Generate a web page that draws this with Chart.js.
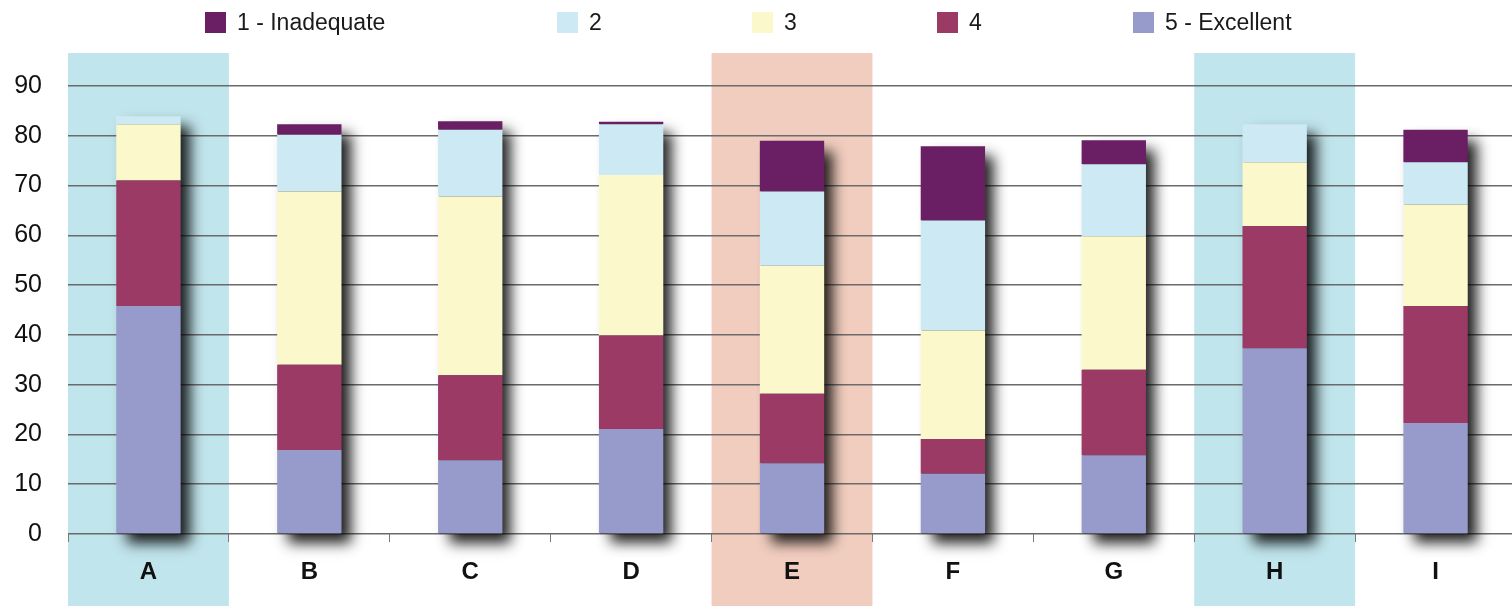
<!DOCTYPE html>
<html>
<head>
<meta charset="utf-8">
<script src="https://cdn.jsdelivr.net/npm/chart.js@4/dist/chart.umd.min.js"></script>
<style>
  html, body { margin: 0; padding: 0; background: #ffffff; }
  #wrap { position: relative; width: 1512px; height: 606px; overflow: hidden; }
  #c { position: absolute; left: 0; top: 0; }
  #legend { position: absolute; left: 0; top: 0; width: 1512px; height: 44px;
            font-family: "Liberation Sans", Arial, sans-serif; font-size: 23px; color: #1a1a1a; }
  .item { position: absolute; top: 10px; height: 24px; display: flex; align-items: center; white-space: nowrap; }
  .sw { width: 21px; height: 21px; margin-right: 11px; flex: none; }
</style>
</head>
<body>
<div id="wrap">
  <!-- plot runs slightly past the right edge, so the canvas is a little wider than the view -->
  <canvas id="c" width="1516" height="606"></canvas>
  <div id="legend"></div>
</div>
<script>
// Ratings per category, stacked from "5 - Excellent" at the bottom up to "1 - Inadequate"
const categories = ['A', 'B', 'C', 'D', 'E', 'F', 'G', 'H', 'I'];
const legendLabels = ['1 - Inadequate', '2', '3', '4', '5 - Excellent'];
const inadequate = [0, 2.1, 1.7, 0.5, 10.2, 14.9, 4.8, 0, 6.5];
const rating2    = [1.6, 11.4, 13.4, 10.2, 14.9, 22.1, 14.5, 7.6, 8.5];
const rating3    = [11.3, 34.8, 35.9, 32.2, 25.7, 21.8, 26.8, 12.8, 20.4];
const rating4    = [25.2, 17.1, 17.1, 18.8, 14.0, 7.0, 17.2, 24.6, 23.5];
const excellent  = [45.8, 16.9, 14.8, 21.1, 14.2, 12.1, 15.8, 37.3, 22.3];
const yTicks = [0, 10, 20, 30, 40, 50, 60, 70, 80, 90];
const highlightedCategories = ['A', 'E', 'H'];

// Styling
const colors = {
  '1 - Inadequate': '#6a1e63',
  '2': '#cdeaf4',
  '3': '#fbf8cc',
  '4': '#9c3a66',
  '5 - Excellent': '#979bcb'
};
const bandColors = { A: '#c1e5ec', E: '#f1cdbf', H: '#c1e5ec' };
const legendLeft = [205, 557, 752, 937, 1133];
const bandTop = 53;

// Legend
const legendEl = document.getElementById('legend');
legendLabels.forEach((label, i) => {
  const it = document.createElement('div');
  it.className = 'item';
  it.style.left = legendLeft[i] + 'px';
  const sw = document.createElement('span');
  sw.className = 'sw';
  sw.style.background = colors[label];
  const tx = document.createElement('span');
  tx.textContent = label;
  it.appendChild(sw);
  it.appendChild(tx);
  legendEl.appendChild(it);
});

// Shaded columns behind highlighted categories
const bandsPlugin = {
  id: 'bands',
  beforeDraw(chart) {
    const { ctx, scales: { x } } = chart;
    const step = x.getPixelForValue(1) - x.getPixelForValue(0);
    ctx.save();
    highlightedCategories.forEach(cat => {
      const i = categories.indexOf(cat);
      const cx = x.getPixelForValue(i);
      ctx.fillStyle = bandColors[cat];
      ctx.fillRect(cx - step / 2, bandTop, step, chart.height - bandTop);
    });
    ctx.restore();
  }
};

// Soft drop shadow behind each stacked column
const shadowPlugin = {
  id: 'stackShadow',
  beforeDatasetsDraw(chart) {
    const metas = chart.getSortedVisibleDatasetMetas();
    if (!metas.length) return;
    const base = chart.scales.y.getPixelForValue(0);
    const { ctx } = chart;
    ctx.save();
    ctx.shadowColor = 'rgba(0,0,0,0.88)';
    ctx.shadowBlur = 13;
    ctx.shadowOffsetX = 10;
    ctx.shadowOffsetY = 9;
    ctx.fillStyle = '#3a3a3a';
    categories.forEach((c, i) => {
      let top = base;
      let x = 0, w = 0;
      metas.forEach(m => {
        const el = m.data[i];
        if (!el) return;
        top = Math.min(top, el.y);
        x = el.x; w = el.width;
      });
      ctx.fillRect(x - w / 2 + 1, top + 1, w - 2, base - top - 1);
    });
    ctx.restore();
  }
};

const stackOrder = [
  ['5 - Excellent', excellent],
  ['4', rating4],
  ['3', rating3],
  ['2', rating2],
  ['1 - Inadequate', inadequate]
];

new Chart(document.getElementById('c'), {
  type: 'bar',
  data: {
    labels: categories,
    datasets: stackOrder.map(([label, values]) => ({
      label,
      data: values,
      backgroundColor: colors[label],
      borderWidth: 0,
      categoryPercentage: 1,
      barPercentage: 0.4
    }))
  },
  options: {
    responsive: false,
    devicePixelRatio: 1,
    animation: false,
    layout: { padding: { top: 86, right: 0, bottom: 0, left: 0 } },
    plugins: {
      legend: { display: false },
      tooltip: { enabled: false }
    },
    scales: {
      x: {
        stacked: true,
        offset: true,
        afterFit(scale) { scale.height = 72; },
        grid: {
          display: true,
          drawOnChartArea: false,
          drawTicks: true,
          offset: true,
          tickLength: 8,
          color: '#7a7a7a',
          lineWidth: 1
        },
        border: { display: false },
        ticks: {
          color: '#111111',
          padding: 16,
          font: { family: '"Liberation Sans", Arial, sans-serif', size: 24, weight: 'bold' }
        }
      },
      y: {
        stacked: true,
        min: 0,
        max: 90,
        afterFit(scale) { scale.width = 68; },
        afterBuildTicks(scale) { scale.ticks = yTicks.map(v => ({ value: v })); },
        grid: {
          color: '#6b6b6b',
          lineWidth: 1.5,
          drawTicks: false
        },
        border: { display: false },
        ticks: {
          color: '#111111',
          padding: 26,
          font: { family: '"Liberation Sans", Arial, sans-serif', size: 25 }
        }
      }
    }
  },
  plugins: [bandsPlugin, shadowPlugin]
});
</script>
</body>
</html>
